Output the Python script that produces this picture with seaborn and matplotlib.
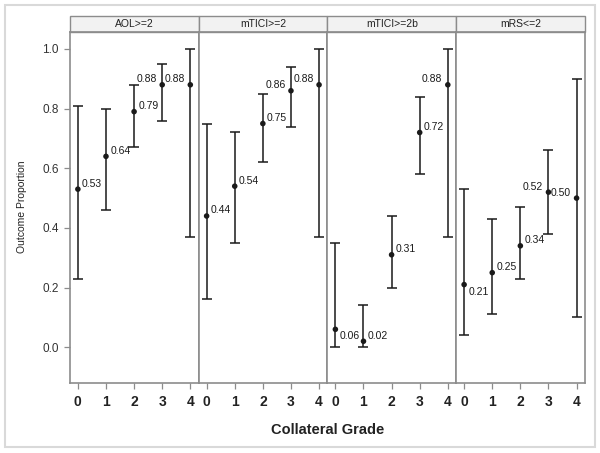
import numpy as np
import pandas as pd
import matplotlib
matplotlib.use("Agg")
import matplotlib.pyplot as plt
import seaborn as sns
from matplotlib.patches import Rectangle

# data
outcomes = ["AOL>=2", "mTICI>=2", "mTICI>=2b", "mRS<=2"]
grades = [0, 1, 2, 3, 4]

aol_est = [0.53, 0.64, 0.79, 0.88, 0.88]
aol_lo = [0.23, 0.46, 0.67, 0.76, 0.37]
aol_hi = [0.81, 0.80, 0.88, 0.95, 1.00]

tici2_est = [0.44, 0.54, 0.75, 0.86, 0.88]
tici2_lo = [0.16, 0.35, 0.62, 0.74, 0.37]
tici2_hi = [0.75, 0.72, 0.85, 0.94, 1.00]

tici2b_est = [0.06, 0.02, 0.31, 0.72, 0.88]
tici2b_lo = [0.00, 0.00, 0.20, 0.58, 0.37]
tici2b_hi = [0.35, 0.14, 0.44, 0.84, 1.00]

mrs_est = [0.21, 0.25, 0.34, 0.52, 0.50]
mrs_lo = [0.04, 0.11, 0.23, 0.38, 0.10]
mrs_hi = [0.53, 0.43, 0.47, 0.66, 0.90]

ests = [aol_est, tici2_est, tici2b_est, mrs_est]
los = [aol_lo, tici2_lo, tici2b_lo, mrs_lo]
his = [aol_hi, tici2_hi, tici2b_hi, mrs_hi]

rows = []
for name, e, l, h in zip(outcomes, ests, los, his):
    for gr, ev, lv, hv in zip(grades, e, l, h):
        rows.append({"outcome": name, "grade": gr, "est": ev, "lo": lv, "hi": hv})
df = pd.DataFrame(rows)

# label placement (SAS moved these to avoid collisions)
left_labels = {("AOL>=2", 3), ("AOL>=2", 4), ("mTICI>=2", 3), ("mTICI>=2", 4),
               ("mTICI>=2b", 4), ("mRS<=2", 3), ("mRS<=2", 4)}
below_labels = {("mTICI>=2b", 0), ("mRS<=2", 0)}

sns.set_style("white")
plt.rcParams["font.family"] = ["Liberation Sans", "DejaVu Sans"]

ink = "#1a1a1a"
frame = "#8c8c8c"


def draw(data, **kws):
    ax = plt.gca()
    yerr = [data["est"] - data["lo"], data["hi"] - data["est"]]
    ax.errorbar(data["grade"], data["est"], yerr=yerr, fmt="none", ecolor=ink,
                elinewidth=1.1, capsize=3.4, capthick=1.1, zorder=2)
    sns.scatterplot(data=data, x="grade", y="est", ax=ax, color=ink, s=16,
                    edgecolor="none", zorder=3, legend=False)
    for _, r in data.iterrows():
        key = (r["outcome"], r["grade"])
        if key in left_labels:
            off, ha = (-4, 4), "right"
        elif key in below_labels:
            off, ha = (3, -5), "left"
        else:
            off, ha = (3, 4), "left"
        ax.annotate(f"{r['est']:.2f}", (r["grade"], r["est"]), xytext=off,
                    textcoords="offset points", ha=ha, va="center",
                    fontsize=7.5, color=ink)


g = sns.FacetGrid(df, col="outcome", col_order=outcomes, sharey=True,
                  despine=False, height=3, aspect=0.5)
g.map_dataframe(draw)

fig = g.figure
fig.set_size_inches(6, 4.53)
fig.subplots_adjust(left=70 / 600, right=585 / 600, bottom=1 - 383 / 453,
                    top=1 - 32 / 453, wspace=0)
g.set_titles("")
g.set_axis_labels("", "")

strip_h = 16 / 351
for i, (ax, name) in enumerate(zip(g.axes.flat, outcomes)):
    ax.set_xlim(-0.28, 4.3)
    ax.set_ylim(-0.12, 1.057)
    ax.set_xticks(grades)
    ax.set_xticklabels([str(x) for x in grades], fontsize=10, fontweight="bold",
                       color="#222222")
    ax.set_yticks([0.0, 0.2, 0.4, 0.6, 0.8, 1.0])
    ax.set_yticklabels(["0.0", "0.2", "0.4", "0.6", "0.8", "1.0"], fontsize=8.5,
                       color="#333333")
    ax.tick_params(axis="both", direction="out", length=4, width=0.9,
                   color=frame, pad=4)
    ax.tick_params(axis="x", bottom=True, pad=5)
    if i == 0:
        ax.tick_params(axis="y", left=True)
    else:
        ax.tick_params(axis="y", left=False)
    for sp in ax.spines.values():
        sp.set_color(frame)
        sp.set_linewidth(1.2)
    ax.add_patch(Rectangle((0, 1), 1, strip_h, transform=ax.transAxes,
                           facecolor="#f2f2f2", edgecolor=frame, lw=1.0,
                           clip_on=False))
    ax.text(0.5, 1 + strip_h / 2, name, transform=ax.transAxes, ha="center",
            va="center", fontsize=7.5, color="#222222")

fig.text(327.5 / 600, 1 - 430 / 453, "Collateral Grade", ha="center",
         va="center", fontsize=10.5, fontweight="bold", color="#222222")
fig.text(22 / 600, 1 - 207 / 453, "Outcome Proportion", ha="center",
         va="center", rotation=90, fontsize=7.5, color="#222222")

fig.patches.append(Rectangle((5 / 600, 6 / 453), 590 / 600, 442 / 453,
                             transform=fig.transFigure, facecolor="none",
                             edgecolor="#d9d9d9", lw=1.5))

fig.savefig("out.png", dpi=100)
